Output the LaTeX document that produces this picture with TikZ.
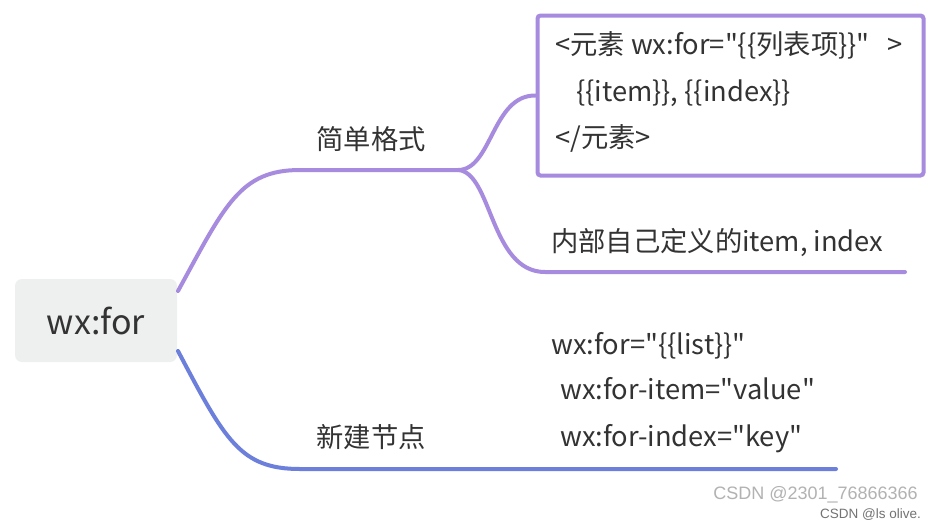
\documentclass[tikz,border=0pt]{standalone}
\usepackage{fontspec}
\newfontfamily\cjkf{Noto Sans CJK SC}
\newfontfamily\wmfont{Liberation Sans}
\definecolor{purp}{HTML}{A78BDE}
\definecolor{bluel}{HTML}{6B7FDB}
\definecolor{rootfill}{HTML}{EEF0EF}
\definecolor{txt}{HTML}{333333}
\begin{document}
\begin{tikzpicture}[x=1pt,y=-1pt,
  lbl/.style={inner sep=0pt, text=txt, font=\cjkf\fontsize{27.3}{30}\selectfont, text height=0.75em, text depth=0.2em},
  lblw/.style={lbl, anchor=west},
  branchp/.style={draw=purp, line width=4pt, line cap=round},
  branchb/.style={draw=bluel, line width=4pt, line cap=round},
  wm/.style={inner sep=0pt, anchor=east, font=\wmfont}
]
\useasboundingbox (0,0) rectangle (939,531);
\fill[white] (0,0) rectangle (939,531);

% root
\node[fill=rootfill, rounded corners=7pt, minimum width=162pt, minimum height=83pt, inner sep=0pt,
      text=txt, font=\cjkf\fontsize{34}{40}\selectfont] (root) at (96,320.5) {wx:for};

% coordinates for connectors
\coordinate (r1) at (178,291);
\coordinate (r2) at (178,351);
\coordinate (j1) at (458,170);

% code box
\node[draw=purp, line width=4pt, rounded corners=3pt, fill=white, minimum width=386pt, minimum height=160pt, inner sep=0pt] (box) at (730.5,95.5) {};
\node[lblw] (c1) at (555,52) {<元素 wx:for="\{\{列表项\}\}"\hspace{18pt}>};
\node[lblw] (c2) at (576,99) {\{\{item\}\}, \{\{index\}\}};
\node[lblw] (c3) at (555,145) {</元素>};

% labels
\node[lbl] (simple) at (371,147) {简单格式};
\node[lbl] (newnode) at (371,445) {新建节点};
\node[lblw] (inner) at (551,249) {内部自己定义的item, index};
\node[lblw] (a1) at (551,352) {wx:for="\{\{list\}\}"};
\node[lblw] (a2) at (560,397) {wx:for-item="value"};
\node[lblw] (a3) at (560,444) {wx:for-index="key"};
\coordinate (e1) at (905,272);
\coordinate (e2) at (836,469);

% connectors
\draw[branchp] (r1) .. controls (225,205) and (240,170) .. (300,170) -- (j1);
\draw[branchp] (j1) .. controls (492,170) and (492,95) .. (box.west);
\draw[branchp] (j1) .. controls (492,172) and (490,272) .. (545,272) -- (e1);
\draw[branchb] (r2) .. controls (225,440) and (240,469) .. (300,469) -- (e2);

% watermarks
\node[wm, text=black!30, font=\wmfont\fontsize{18}{21}\selectfont] (w1) at (918,495) {CSDN @2301\_76866366};
\node[wm, text=black!55, font=\wmfont\fontsize{13.5}{15}\selectfont] (w2) at (921,515) {CSDN @ls olive.};
\end{tikzpicture}
\end{document}
